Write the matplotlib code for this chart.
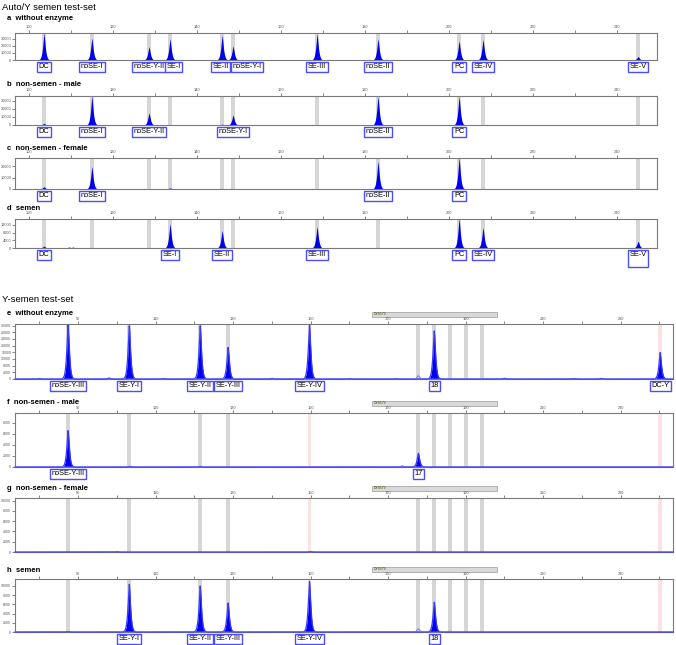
import numpy as np
import matplotlib
matplotlib.use("Agg")
import matplotlib.pyplot as plt
import matplotlib.transforms as mtransforms

plt.rcParams['font.family'] = ['Liberation Sans', 'DejaVu Sans']

# ---------------- data: Auto/Y semen test-set ----------------
auto_xlim = (96.7, 249.5)
auto_bins = [103.6, 115.0, 128.6, 133.6, 146.0, 148.6, 168.6, 183.1, 202.4, 208.1, 245.0]

a_pos = [103.6, 110.0, 115.0, 128.6, 133.6, 146.0, 148.6, 168.6, 183.1, 202.4, 208.1, 245.0]
a_hgt = [38000, 800, 31000, 19000, 30000, 35000, 20000, 37000, 30000, 27000, 29000, 5000]
a_lab = ["DC", "noSE-I", "noSE-Y-II", "SE-I", "SE-II", "noSE-Y-I", "SE-III", "noSE-II", "PC", "SE-IV", "SE-V"]
a_lpos = [103.6, 115.0, 128.6, 134.4, 145.6, 151.9, 168.6, 183.1, 202.4, 208.1, 245.0]

b_pos = [103.6, 110.0, 115.0, 128.6, 133.6, 146.0, 148.6, 168.6, 183.1, 202.4]
b_hgt = [2000, 600, 35500, 15000, 700, 1000, 12500, 600, 35000, 35000]
b_lab = ["DC", "noSE-I", "noSE-Y-II", "noSE-Y-I", "noSE-II", "PC"]
b_lpos = [103.6, 115.0, 128.6, 148.6, 183.1, 202.4]

c_pos = [103.6, 110.0, 115.0, 133.6, 146.0, 183.1, 202.4, 208.1]
c_hgt = [2000, 500, 19500, 1000, 600, 24000, 27000, 500]
c_lab = ["DC", "noSE-I", "noSE-II", "PC"]
c_lpos = [103.6, 115.0, 183.1, 202.4]

d_pos = [103.6, 109.5, 110.5, 117.0, 133.6, 146.0, 150.0, 168.6, 202.4, 208.1, 245.0]
d_hgt = [1000, 500, 500, 300, 12500, 9000, 300, 11000, 15000, 10500, 3500]
d_lab = ["DC", "SE-I", "SE-II", "SE-III", "PC", "SE-IV", "SE-V\n"]
d_lpos = [103.6, 133.6, 146.0, 168.6, 202.4, 208.1, 245.0]

# ---------------- data: Y-semen test-set ----------------
y_xlim = (73.7, 243.5)
y_bins_grey = [87.4, 103.2, 121.5, 128.7, 177.8, 181.9, 186.0, 190.0, 194.2]
y_bins_pink = [149.7, 240.2]
marker_name = "DYS579"
marker_range = (165.9, 198.1)

e_pos = [80.0, 87.4, 98.0, 103.2, 112.0, 121.5, 128.7, 140.0, 149.7, 160.0, 172.0,
         181.9, 200.0, 218.0, 225.0, 240.2]
e_hgt = [300, 32500, 600, 32000, 300, 32000, 19000, 400, 32500, 300, 300,
         29000, 400, 300, 400, 16000]
e_open_pos = [177.8]
e_open_hgt = [2000]
e_lab = ["noSE-Y-III", "SE-Y-I", "SE-Y-II", "SE-Y-III", "SE-Y-IV", "18", "DC-Y"]
e_lpos = [87.4, 103.2, 121.5, 128.7, 149.7, 181.9, 240.2]

f_pos = [87.4, 103.2, 121.5, 177.8]
f_hgt = [6600, 100, 100, 2500]
f_open_pos = [173.6]
f_open_hgt = [250]
f_lab = ["noSE-Y-III", "17"]
f_lpos = [87.4, 177.8]

g_pos = [100.0, 150.0]
g_hgt = [60, 60]
g_open_pos = []
g_open_hgt = []
g_lab = []
g_lpos = []

h_pos = [87.4, 103.2, 121.5, 128.7, 149.7, 181.9]
h_hgt = [100, 10400, 10000, 6300, 11000, 6500]
h_open_pos = [177.8, 186.0]
h_open_hgt = [700, 200]
h_lab = ["SE-Y-I", "SE-Y-II", "SE-Y-III", "SE-Y-IV", "18"]
h_lpos = [103.2, 121.5, 128.7, 149.7, 181.9]

W, H = 676, 645
fig = plt.figure(figsize=(W / 100, H / 100), dpi=100)

BLUE = "#0000f0"
BOX = "#4d4dff"
FRAME = "#7a7a7a"


def px_axes(left, right, top, bottom):
    return fig.add_axes([left / W, 1 - bottom / H, (right - left) / W, (bottom - top) / H])


def trace(x, pos, hgt, width):
    y = np.zeros_like(x)
    for p, h in zip(pos, hgt):
        y += h * np.exp(-(np.abs(x - p) / width) ** 1.35)
    return y


def style_axes(ax, xlim, ymax, yticks, xlab_start):
    ax.set_xlim(*xlim)
    ax.set_ylim(0, ymax)
    for s in ax.spines.values():
        s.set_color(FRAME)
        s.set_linewidth(0.8)
    ax.xaxis.tick_top()
    ticks = np.arange(np.ceil(xlim[0] / 10) * 10, xlim[1], 10)
    ax.set_xticks(ticks)
    ax.set_xticklabels([f"{t:.0f}" if (t - xlab_start) % 20 == 0 else "" for t in ticks])
    ax.set_yticks(yticks)
    ax.set_yticklabels([f"{v}" for v in yticks])
    ax.tick_params(axis='both', labelsize=2.8, colors="#555555", length=2, width=0.5, pad=0.8)


def draw_panel(ax, pos, hgt, bins_grey, bins_pink, labels, lpos, baseline, width,
               open_pos=(), open_hgt=()):
    for b in bins_grey:
        ax.axvspan(b - 0.5, b + 0.5, color="#d6d6d6", lw=0, zorder=1)
    for b in bins_pink:
        ax.axvspan(b - 0.5, b + 0.5, color="#fde2e2", lw=0, zorder=1)
    x = np.linspace(ax.get_xlim()[0], ax.get_xlim()[1], 6000)
    y = trace(x, pos, hgt, width)
    ax.fill_between(x, 0, y, color=BLUE, lw=0, zorder=2)
    if baseline:
        ax.plot(x, y, color="#3a3aff", lw=0.9, zorder=3, clip_on=False)
    if len(open_pos):
        yo = trace(x, open_pos, open_hgt, width=0.5)
        ax.plot(x, yo, color="#6a6aff", lw=0.6, zorder=3)
    for lab, p in zip(labels, lpos):
        ax.annotate(lab, xy=(p, 0), xycoords=('data', 'axes fraction'),
                    xytext=(0, -2.4), textcoords='offset points',
                    ha='center', va='top', fontsize=5.3, color='black',
                    linespacing=1.1,
                    bbox=dict(boxstyle='square,pad=0.22', fc='white', ec=BOX, lw=1.0),
                    zorder=5, annotation_clip=False)


def title(y, letter, text):
    fig.text(7 / W, 1 - y / H, f"{letter}  {text}", fontsize=5.5, fontweight='bold', va='center')


# headings
fig.text(2 / W, 1 - 8 / H, "Auto/Y semen test-set", fontsize=6.8, va='center')
fig.text(2 / W, 1 - 300 / H, "Y-semen test-set", fontsize=6.8, va='center')

# top panels
top_specs = [
    ("a", "without enzyme", 19, 33, 60, 38500, [0, 10000, 20000, 30000], a_pos, a_hgt, a_lab, a_lpos),
    ("b", "non-semen - male", 84, 96, 125, 36000, [0, 10000, 20000, 30000], b_pos, b_hgt, b_lab, b_lpos),
    ("c", "non-semen - female", 148, 158, 189, 27000, [0, 10000, 20000], c_pos, c_hgt, c_lab, c_lpos),
    ("d", "semen", 209, 219, 248, 15000, [0, 4000, 8000, 12000], d_pos, d_hgt, d_lab, d_lpos),
]
for letter, text, ty, top, bot, ymax, yt, pos, hgt, lab, lpos in top_specs:
    title(ty, letter, text)
    ax = px_axes(15, 657, top, bot)
    style_axes(ax, auto_xlim, ymax, yt, 100)
    draw_panel(ax, pos, hgt, auto_bins, [], lab, lpos, baseline=False, width=0.42)

# Y panels
y_specs = [
    ("e", "without enzyme", 313, 324, 379, 33000, list(range(0, 32001, 4000)),
     e_pos, e_hgt, e_open_pos, e_open_hgt, e_lab, e_lpos),
    ("f", "non-semen - male", 403, 413, 467, 9800, list(range(0, 8001, 2000)),
     f_pos, f_hgt, f_open_pos, f_open_hgt, f_lab, f_lpos),
    ("g", "non-semen - female", 488, 498, 552, 10500, list(range(0, 10001, 2000)),
     g_pos, g_hgt, g_open_pos, g_open_hgt, g_lab, g_lpos),
    ("h", "semen", 570, 579, 632, 11500, list(range(0, 10001, 2000)),
     h_pos, h_hgt, h_open_pos, h_open_hgt, h_lab, h_lpos),
]
for letter, text, ty, top, bot, ymax, yt, pos, hgt, opos, ohgt, lab, lpos in y_specs:
    title(ty, letter, text)
    ax = px_axes(15, 673, top, bot)
    style_axes(ax, y_xlim, ymax, yt, 90)
    ax.tick_params(axis='y', labelsize=2.5)
    ax.tick_params(axis='x', pad=0.5)
    draw_panel(ax, pos, hgt, y_bins_grey, y_bins_pink, lab, lpos, baseline=True, width=0.46,
               open_pos=opos, open_hgt=ohgt)
    # marker bar above the axis
    span = bot - top
    trans = mtransforms.blended_transform_factory(ax.transData, ax.transAxes)
    ax.add_patch(plt.Rectangle((marker_range[0], 1 + 7.5 / span),
                               marker_range[1] - marker_range[0], 4.5 / span,
                               transform=trans, fc="#d9d9d9", ec="#9a9a9a", lw=0.5,
                               clip_on=False))
    ax.text(marker_range[0] + 0.5, 1 + 9.8 / span, marker_name, transform=trans,
            fontsize=2.4, va='center', ha='left', color="#444400")

fig.savefig("out.png", dpi=100)
